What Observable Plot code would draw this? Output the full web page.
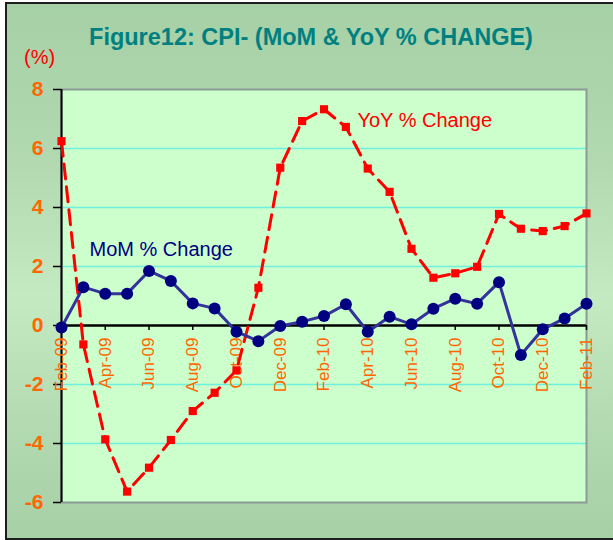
<!DOCTYPE html>
<html><head><meta charset="utf-8">
<script src="https://cdn.jsdelivr.net/npm/d3@7"></script>
<script src="https://cdn.jsdelivr.net/npm/@observablehq/plot@0.6"></script>
<style>
body{margin:0;background:#fff;}
#wrap{position:relative;width:613px;height:540px;overflow:hidden;font-family:Arial,"Liberation Sans",sans-serif;}
#bg{position:absolute;left:5px;top:2px;width:640px;height:534px;border:2px solid #1e1e1e;
  background:linear-gradient(to bottom,#a6d0a6 0%,#b2d9b0 30%,#c4eac2 55%,#b2d9b0 80%,#a6d0a6 100%);}
#title{position:absolute;left:0;width:622px;top:24px;text-align:center;font-weight:bold;font-size:23.5px;color:#008080;white-space:nowrap;}
#unit{position:absolute;left:24px;top:46px;font-size:20px;color:#ff0000;}
#chart{position:absolute;left:0;top:0;}
</style></head><body>
<div id="wrap"><div id="bg"></div><div id="chart"></div>
<div id="title">Figure12: CPI- (MoM &amp; YoY % CHANGE)</div><div id="unit">(%)</div></div>
<script>
const months = ["Feb-09","Mar-09","Apr-09","May-09","Jun-09","Jul-09","Aug-09","Sep-09","Oct-09","Nov-09","Dec-09","Jan-10",
  "Feb-10","Mar-10","Apr-10","May-10","Jun-10","Jul-10","Aug-10","Sep-10","Oct-10","Nov-10","Dec-10","Jan-11","Feb-11"];
const mom = [-0.07,1.30,1.08,1.08,1.85,1.51,0.75,0.58,-0.21,-0.53,-0.02,0.13,0.32,0.72,-0.21,0.30,0.04,0.57,0.91,0.74,1.47,-1.00,-0.13,0.24,0.74];
const yoy = [6.25,-0.64,-3.86,-5.63,-4.82,-3.88,-2.90,-2.28,-1.52,1.28,5.35,6.93,7.33,6.73,5.32,4.53,2.60,1.62,1.77,1.99,3.78,3.28,3.20,3.37,3.80];
const yTicks = [-6,-4,-2,0,2,4,6,8];
const gridValues = [-4,-2,2,4,6];
const xLabelIdx = [0,2,4,6,8,10,12,14,16,18,20,22,24];

const momData = months.map((m,i)=>({i, m, v: mom[i]}));
const yoyData = months.map((m,i)=>({i, m, v: yoy[i]}));

const orange = "#ff6600";
const plot = Plot.plot({
  width: 613, height: 540,
  marginLeft: 61, marginRight: 27, marginTop: 89, marginBottom: 38,
  style: {background: "transparent", fontFamily: "Arial, 'Liberation Sans', sans-serif", overflow: "visible"},
  x: {type: "linear", domain: [0, 24], axis: null},
  y: {domain: [-6, 8], axis: null},
  marks: [
    Plot.frame({fill: "#ccffcc", stroke: "none"}),
    Plot.ruleY(gridValues, {stroke: "#70f0dc", strokeWidth: 1.5}),
    Plot.frame({stroke: "#8c9a98", strokeWidth: 2, fill: "none"}),
    Plot.ruleX([0], {stroke: "#000", strokeWidth: 2}),
    Plot.ruleY(yTicks, {x1: 0, x2: 0, y: d => d, insetLeft: -8, stroke: "#000", strokeWidth: 1.5}),
    Plot.text(yTicks, {frameAnchor: "left", y: d => d, text: d => String(d), dx: -18, textAnchor: "end",
      fontSize: 21, fontWeight: "bold", fill: orange}),
    Plot.text(xLabelIdx, {x: d => d, y: 0, text: d => months[d], rotate: -90, textAnchor: "end",
      dy: 12, fontSize: 17, fill: orange}),
    Plot.ruleY([0], {stroke: "#000", strokeWidth: 2.5}),
    Plot.ruleX(xLabelIdx, {x: d => d, y1: 0, y2: 0, insetBottom: -5, stroke: "#000", strokeWidth: 1.5}),
    Plot.line(yoyData, {x: "i", y: "v", stroke: "#ff0000", strokeWidth: 3, strokeDasharray: "15,8"}),
    Plot.dot(yoyData, {x: "i", y: "v", symbol: "square", r: 4.6, fill: "#ff0000", stroke: "none"}),
    Plot.line(momData, {x: "i", y: "v", stroke: "#333399", strokeWidth: 3}),
    Plot.dot(momData, {x: "i", y: "v", r: 6, fill: "#000080", stroke: "none"}),
    Plot.text(["MoM % Change"], {x: 1.28, y: 2.36, text: d => d, textAnchor: "start", lineAnchor: "bottom",
      fontSize: 20, fill: "#000080"}),
    Plot.text(["YoY % Change"], {x: 13.53, y: 6.73, text: d => d, textAnchor: "start", lineAnchor: "bottom",
      fontSize: 20, fill: "#ff0000"})
  ]
});
document.getElementById("chart").appendChild(plot);
</script>
</body></html>
